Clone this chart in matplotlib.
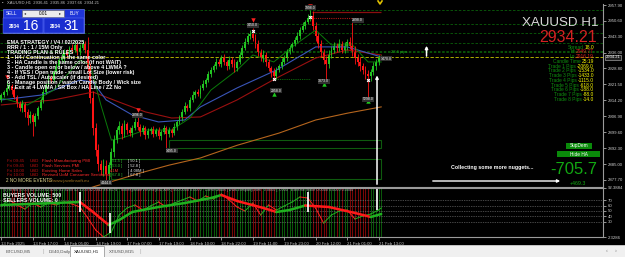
import matplotlib
matplotlib.use("Agg")
import matplotlib.pyplot as plt
from matplotlib.patches import Rectangle
import numpy as np

plt.rcParams['font.family'] = ['Liberation Sans', 'DejaVu Sans']

# ---------------- data ----------------
symbol = "XAUUSD H1"
last_price = 2934.21
first_open = 2914.5
closes = [
 2916.6, 2918.0, 2919.9, 2920.8, 2918.9, 2915.7, 2913.0, 2910.7, 2912.5, 2908.9,
 2906.1, 2907.5, 2904.3, 2907.0, 2910.7, 2914.4, 2918.0, 2921.2, 2924.4, 2923.5,
 2927.2, 2929.9, 2932.7, 2933.6, 2936.4, 2935.0, 2938.2, 2937.3, 2939.6, 2936.4,
 2938.2, 2940.0, 2937.3, 2929.0, 2915.3, 2901.5, 2891.4, 2885.0, 2882.3, 2884.1,
 2880.4, 2884.6, 2890.5, 2896.0, 2900.6, 2902.4, 2898.8, 2903.4, 2900.6, 2899.2,
 2901.5, 2904.3, 2902.0, 2899.7, 2901.5, 2898.3, 2900.2, 2901.1, 2898.8, 2900.6,
 2897.9, 2899.7, 2901.5, 2898.8, 2900.6, 2899.2, 2902.0, 2904.3, 2906.1, 2908.9,
 2911.6, 2910.7, 2914.4, 2916.6, 2918.0, 2917.1, 2919.9, 2921.7, 2923.5, 2926.3,
 2928.1, 2929.9, 2931.8, 2930.9, 2933.6, 2931.8, 2929.9, 2932.7, 2930.9, 2929.0,
 2931.8, 2935.0, 2938.2, 2940.9, 2943.7, 2944.6, 2942.8, 2940.0, 2936.4, 2933.6,
 2935.0, 2931.8, 2929.0, 2927.2, 2925.4, 2928.1, 2929.9, 2931.8, 2933.6, 2936.4,
 2938.2, 2940.0, 2941.9, 2943.7, 2946.4, 2948.3, 2950.1, 2951.9, 2952.9, 2948.3,
 2943.7, 2940.0, 2936.4, 2932.7, 2930.9, 2935.0, 2937.3, 2939.1, 2938.2, 2940.0,
 2937.3, 2939.1, 2940.9, 2939.1, 2936.4, 2933.6, 2931.8, 2929.9, 2928.1, 2926.3,
 2925.4, 2927.2, 2929.9, 2931.8, 2933.6, 2934.21]
upper_wick = [
 1.0, 0.8, 3.6, 1.2, 0.7, 1.5, 0.9, 1.1, 2.0, 0.8,
 1.2, 1.6, 0.9, 1.4, 0.8, 1.1, 1.3, 0.9, 1.7, 1.2,
 0.9, 1.4, 1.0, 2.1, 1.2, 1.5, 0.8, 1.8, 2.4, 1.1,
 1.6, 2.0, 1.3, 5.9, 2.2, 3.0, 2.5, 2.8, 1.9, 3.2,
 2.6, 1.4, 1.8, 2.2, 1.5, 2.4, 1.2, 1.9, 1.1, 1.6,
 1.3, 1.8, 2.7, 1.2, 1.6, 0.9, 1.4, 1.1, 1.5, 0.8,
 1.2, 1.0, 1.6, 0.9, 1.3, 1.1, 1.7, 1.0, 1.4, 1.2,
 1.8, 1.1, 1.5, 1.9, 0.9, 1.4, 1.2, 1.6, 1.0, 1.3,
 1.5, 1.1, 1.8, 1.2, 1.4, 1.9, 1.0, 1.6, 1.3, 2.2,
 1.1, 1.4, 1.2, 1.7, 1.5, 2.0, 2.8, 1.6, 1.9, 1.3,
 2.1, 1.2, 1.5, 1.0, 1.8, 1.3, 1.1, 1.6, 1.4, 1.2,
 1.5, 1.0, 1.3, 1.8, 1.2, 1.6, 1.1, 1.9, 2.7, 2.2,
 1.8, 1.4, 2.0, 1.3, 1.7, 2.4, 1.6, 1.9, 1.2, 2.1,
 1.4, 1.8, 1.5, 2.2, 11.9, 2.6, 1.8, 2.4, 1.5, 1.9,
 2.0, 1.4, 1.7, 1.2, 1.5, 0.6]
lower_wick = [
 1.2, 0.9, 1.4, 1.0, 1.6, 1.1, 2.0, 1.5, 1.8, 2.4,
 3.0, 2.2, 6.4, 1.8, 1.3, 1.0, 1.5, 0.8, 1.2, 1.4,
 1.1, 0.9, 1.3, 1.0, 1.6, 1.2, 0.8, 1.4, 1.1, 1.5,
 1.2, 0.9, 1.6, 1.8, 2.5, 3.1, 2.6, 3.4, 2.2, 2.8,
 2.7, 3.0, 1.8, 2.4, 1.5, 1.9, 2.1, 1.4, 1.7, 1.2,
 1.6, 1.1, 1.3, 1.8, 1.0, 2.0, 1.4, 1.2, 1.5, 1.1,
 1.3, 1.7, 1.0, 7.4, 1.2, 1.6, 1.1, 1.4, 0.9, 1.3,
 1.0, 1.5, 1.2, 0.8, 1.4, 1.1, 1.6, 0.9, 1.3, 1.0,
 1.2, 0.9, 1.4, 1.1, 1.6, 1.3, 1.8, 1.2, 1.5, 1.9,
 1.3, 1.0, 1.2, 0.9, 1.1, 1.4, 1.6, 1.8, 2.1, 1.5,
 1.7, 1.9, 1.4, 2.2, 1.9, 1.3, 1.1, 1.5, 0.9, 1.2,
 1.0, 1.4, 1.1, 0.8, 1.3, 1.0, 1.2, 0.9, 1.5, 1.8,
 2.2, 1.9, 2.5, 1.7, 8.3, 2.0, 1.6, 1.4, 1.9, 1.2,
 1.5, 1.3, 1.8, 1.4, 2.0, 2.6, 1.9, 2.3, 1.7, 2.1,
 9.7, 2.5, 1.4, 1.8, 1.2, 0.8]

# moving averages (sampled at bars)
ma_fast_bars = [0, 10, 20, 30, 34, 38, 42, 46, 55, 65, 72, 80, 90, 96, 104, 112, 120, 126, 134, 140, 145]
ma_fast_vals = [2915.3, 2912.1, 2918.9, 2932.7, 2930.4, 2912.1, 2896.0, 2896.9, 2900.6, 2900.6,
                2906.1, 2918.9, 2928.1, 2935.0, 2931.8, 2939.6, 2946.4, 2939.6, 2939.6, 2931.8, 2931.8]
ma_blue_bars = [0, 15, 30, 35, 40, 50, 60, 70, 76, 90, 105, 120, 132, 145]
ma_blue_vals = [2914.4, 2916.6, 2923.5, 2922.6, 2914.4, 2907.5, 2904.3, 2905.2, 2911.2, 2919.9,
                2928.1, 2938.7, 2938.7, 2934.1]
ma_red_bars = [0, 20, 35, 45, 55, 65, 76, 90, 105, 120, 132, 145]
ma_red_vals = [2912.1, 2914.4, 2918.0, 2913.4, 2908.9, 2906.1, 2906.6, 2914.4, 2924.4, 2933.6,
               2937.3, 2935.0]
ma_slow_bars = [30, 36, 45, 53, 64, 76, 90, 106, 120, 132, 145]
ma_slow_vals = [2872.5, 2874.9, 2878.0, 2880.9, 2884.5, 2887.8, 2893.6, 2899.2, 2905.2, 2908.3, 2911.2]

# zone levels
sr_levels = [2955.6, 2949.2, 2945.1, 2940.5, 2936.9, 2936.4]
zones = [(64, 145, 2892.4, 2896.0), (42, 145, 2878.3, 2887.3)]
sell_bars = [2, 52, 96, 118]
sell_prices = [2924.8, 2909.8, 2950.8, 2957.6]
buy_bars = [104, 123, 140]
buy_prices = [2916.9, 2921.5, 2914.0]
x_bars = [96, 104, 118, 140]
x_prices = [2946.0, 2924.0, 2952.3, 2923.5]
tag_bars = [96, 118, 105, 123, 140, 52, 65, 40, 136, 147]
tag_prices = [2948.6, 2956.6, 2918.5, 2923.0, 2914.6, 2907.4, 2891.0, 2876.5, 2951.0, 2933.2]
tag_texts = ["3450.0", "3998.0", "2958.0", "3873.0", "5298.0", "2896.0", "1495.0", "4444.0", "2898.0", "1470.0"]

time_tick_bars = [0, 12, 24, 36, 48, 60, 72, 84, 96, 108, 120, 132, 144]
time_labels = ["13 Feb 2025", "13 Feb 17:00", "14 Feb 05:00", "14 Feb 19:00", "17 Feb 07:00",
               "17 Feb 19:00", "18 Feb 10:00", "18 Feb 22:00", "19 Feb 11:00", "19 Feb 23:00",
               "20 Feb 12:00", "21 Feb 01:00", "21 Feb 13:00"]
price_ticks = [2957.90, 2950.60, 2943.30, 2936.00, 2928.80, 2921.50, 2914.20,
               2906.90, 2899.60, 2892.30, 2885.00, 2877.70]

# volume indicator
vol_bars = [0, 10, 20, 30, 35, 41, 45, 50, 60, 70, 80, 84, 90, 100, 105, 110, 116, 125, 135, 141, 145]
vol_avg = [60.9, 62.7, 64.5, 66.4, 48.2, 24.5, 33.6, 48.2, 57.3, 64.5, 73.6, 79.1, 68.2, 55.5,
           48.2, 51.8, 60.0, 57.3, 46.4, 39.1, 44.5]
osc_bars = [0, 3, 6, 9, 12, 15, 18, 21, 24, 27, 30, 33, 36, 39, 42, 45, 48, 51, 54, 57, 60, 63,
            66, 69, 72, 75, 78, 81, 84, 87, 90, 93, 96, 99, 102, 105, 108, 111, 114, 117, 120,
            123, 126, 129, 132, 135, 138, 141, 144, 145]
osc_vals = [59.1, 70.0, 60.9, 53.6, 64.5, 57.3, 64.5, 60.9, 66.4, 62.7, 57.3, 37.3, 15.5, 2.7,
            11.8, 42.7, 55.5, 60.9, 51.8, 59.1, 66.4, 57.3, 64.5, 70.0, 75.5, 68.2, 77.3, 71.8,
            80.9, 70.0, 57.3, 50.0, 64.5, 42.7, 60.9, 51.8, 59.1, 66.4, 75.5, 73.6, 55.0, 28.2,
            42.7, 50.0, 51.8, 35.5, 40.9, 44.5, 51.8, 55.5]
vol_marks = [(30, 84.5, 48.2), (41.5, 46.4, 10.0), (117, 84.5, 48.2), (143.4, 92.4, 51.8)]
vol_levels = [70, 60, 50, 40, 30]
vol_ticks = [92.3884, 70, 60, 50, 40, 30, 2.3286]

panel_rows = [("Spread", "18.0"), ("Hi", "2949.77"), ("Lo", "2916.19"), ("Candle Time", "25:19"),
              ("Trade 1 Pips", "-2069.0"), ("Trade 2 Pips", "-1534.0"), ("Trade 3 Pips", "-1433.0"),
              ("Trade 4 Pips", "-1115.0"), ("Trade 5 Pips", "-618.0"), ("Trade 6 Pips", "-188.0"),
              ("Trade 7 Pips", "-88.0"), ("Trade 8 Pips", "-14.0")]
rules = ["EMA STRATEGY / V4 / 02/2025", "RRR / 1 : 1 / 15M Only", "TRADING PLAN & RULES",
         "1 - H4 / Continuation is the same color",
         "2 - HA Candle is the same color (if not WAIT)",
         "3 - Candle open on or below / above 4 LWMA ?",
         "4 - If YES / Open trade - small Lot Size (lower risk)",
         "5 - Add TSL / Autoscaler (if desired)",
         "6 - Manage position / watch Candle Body / Wick size",
         "7 - Exit at 4 LWMA / SR Box / HA Line / ZZ No"]
events = [("Fri 09:45", "USD", "Flash Manufacturing PMI", "[ 51.5 ]", "[ 50.1 ]"),
          ("Fri 09:45", "USD", "Flash Services PMI", "[ 53.0 ]", "[ 52.8 ]"),
          ("Fri 10:00", "USD", "Existing Home Sales", "4.1M", "[ 4.08M ]"),
          ("Fri 10:00", "USD", "Revised UoM Consumer Sentiment", "[ 67.8 ]", "[ 67.8 ]")]
tabs = ["BTCUSD,M5", "DE40,Daily", "XAUUSD,H1", "XTIUSD,M15"]

# ---------------- figure ----------------
W, H = 625, 257
fig = plt.figure(figsize=(W / 100, H / 100), dpi=100, facecolor='black')

def fx(x): return x / W
def fy(y): return 1 - y / H
def T(x, y, s, **kw):
    kw.setdefault('va', 'center')
    return fig.text(fx(x), fy(y), s, **kw)
def R(x0, y0, x1, y1, **kw):
    fig.patches.append(Rectangle((fx(x0), fy(y1)), (x1 - x0) / W, (y1 - y0) / H,
                                 transform=fig.transFigure, **kw))

PX = 2.62  # pixels per bar
XMIN, XMAX = -0.5, (603 - 1.3) / PX
P_TOP, P_BOT = 2958.36, 2874.49
GRN, RED = '#22c422', '#ff1414'
AXC = '#9a9a9a'

ax = fig.add_axes([0, fy(187), 603 / W, (187 - 4) / H])
ax.set_facecolor('black')
ax.set_xlim(XMIN, XMAX)
ax.set_ylim(P_BOT, P_TOP)

n = len(closes)
idx = np.arange(n)
c = np.array(closes)
o = np.r_[first_open, c[:-1]]
hi = np.maximum(o, c) + np.array(upper_wick)
lo = np.minimum(o, c) - np.array(lower_wick)
cols = np.where(c >= o, GRN, RED)

# levels and zones
for lv in sr_levels:
    ax.axhline(lv, color='#0b6a0b', lw=0.6, ls=(0, (3, 2)), alpha=0.9)
for (b0, b1, p0, p1) in zones:
    ax.add_patch(Rectangle((b0, p0), b1 - b0, p1 - p0, fill=False, ec='#0e5a0e', lw=0.8))
ax.axhline(last_price, color='#c8c800', lw=0.6, ls=(0, (4, 2)))
ax.hlines(2954.7, 118.5, 145, color='#8a0f0f', lw=0.9)
ax.hlines(2951.9, 119, 138, color='#b01515', lw=0.8, ls=(0, (1, 1)))
ax.hlines(2924.0, 104, 118, color='#0e8a0e', lw=0.6, ls=(0, (1, 1.2)))

# moving averages
ax.plot(ma_slow_bars, ma_slow_vals, color='#b5651d', lw=0.8)
ax.plot(ma_red_bars, ma_red_vals, color='#9a1010', lw=0.8)
ax.plot(ma_blue_bars, ma_blue_vals, color='#3a55b8', lw=0.8)
ax.plot(ma_fast_bars, ma_fast_vals, color='#0a7a0a', lw=0.7)

# candles
ax.vlines(idx, lo, hi, colors=cols, lw=0.6)
ax.bar(idx, np.abs(c - o) + 0.2, bottom=np.minimum(o, c) - 0.1, width=0.7, color=cols, lw=0)

# signals
ax.plot(sell_bars, sell_prices, 'v', color='#ff2020', ms=3.2, mew=0)
ax.plot(buy_bars, buy_prices, '^', color='#1ec81e', ms=3.2, mew=0)
ax.plot(x_bars, x_prices, 'X', color='white', ms=2.6, mew=0)
for b, p, s in zip(tag_bars, tag_prices, tag_texts):
    ax.text(b, p, s, color='white', fontsize=2.5, ha='center', va='center',
            bbox=dict(boxstyle='square,pad=0.15', fc='#303030', ec='none'))
ax.text(152, 2935.5, "28.6 pips", color='#1ea01e', fontsize=3.0, ha='center', va='bottom')
ax.annotate("", xy=(143.4, 2926.9), xytext=(143.4, P_BOT),
            arrowprops=dict(arrowstyle='-|>', color='white', lw=1.1, mutation_scale=4))
ax.annotate("", xy=(162.3, 2940.5), xytext=(162.3, 2933.2),
            arrowprops=dict(arrowstyle='-|>', color='white', lw=1.1, mutation_scale=4))

for s in ['top', 'left']:
    ax.spines[s].set_visible(False)
for s in ['right', 'bottom']:
    ax.spines[s].set_color(AXC)
    ax.spines[s].set_linewidth(0.8)
ax.yaxis.tick_right()
ax.set_yticks(price_ticks)
ax.set_yticklabels([f"{v:.2f}" for v in price_ticks])
ax.tick_params(axis='y', colors='#d0d0d0', labelsize=3.1, length=2, width=0.5, pad=1.5)
ax.set_xticks([])
ax.text(1.004, (last_price - P_BOT) / (P_TOP - P_BOT) - 0.004, f"{last_price:.2f}", transform=ax.transAxes,
        color='white', fontsize=3.0, va='center', ha='left',
        bbox=dict(boxstyle='square,pad=0.12', fc='#202020', ec='#c0c0c0', lw=0.4))

# ---------------- indicator ----------------
ai = fig.add_axes([0, fy(237.2), 603 / W, (237.2 - 187.7) / H])
ai.set_facecolor('black')
ai.set_xlim(XMIN, XMAX)
ai.set_ylim(2.3286, 92.3884)
ai.vlines(idx, 2.3286, 92.3884, colors=np.where(c >= o, '#0b5a0b', '#7a0808'), lw=0.7)
for lv in vol_levels:
    ai.axhline(lv, color='#8a8a8a', lw=0.5, ls=(0, (1, 1.5)))
ob, ov = np.array(osc_bars), np.array(osc_vals)
for k in range(len(ob) - 1):
    ai.plot(ob[k:k + 2], ov[k:k + 2], color='#ff2020' if ov[k + 1] < ov[k] else '#22b022', lw=0.7)
vb, vv = np.array(vol_bars), np.array(vol_avg)
for k in range(len(vb) - 1):
    ai.plot(vb[k:k + 2], vv[k:k + 2], color='#ff1a1a' if vv[k + 1] < vv[k] else '#20b020', lw=1.8,
            solid_capstyle='round')
for b, t, bt in vol_marks:
    ai.vlines(b, bt, t, color='white', lw=1.2)
for s in ['left']:
    ai.spines[s].set_visible(False)
for s in ['right', 'bottom', 'top']:
    ai.spines[s].set_color(AXC)
    ai.spines[s].set_linewidth(0.8)
ai.yaxis.tick_right()
ai.set_yticks(vol_ticks)
ai.set_yticklabels(['92.3884', '70', '60', '50', '40', '30', '2.3286'])
ai.tick_params(axis='y', colors='#d0d0d0', labelsize=3.1, length=2, width=0.5, pad=1.5)
ai.set_xticks(time_tick_bars)
ai.set_xticklabels(time_labels, ha='left')
ai.tick_params(axis='x', colors='#c8c8c8', labelsize=3.1, length=2, width=0.5, pad=1.2)

# ---------------- overlays ----------------
T(2, 3, "▪", color='#b0b0b0', fontsize=3)
T(7, 3, "XAUUSD,H1  2936.41  2935.86  2937.66  2934.21", color='#c0c0c0', fontsize=3.0, ha='left')
fig.lines.append(plt.Line2D([fx(378), fx(380), fx(382)], [fy(1), fy(4), fy(1)],
                            transform=fig.transFigure, color='#e0c000', lw=1.2))

# trade panel
BLUE = '#1f35d9'
R(3, 9, 84, 33, fc=BLUE, ec='#8090ff', lw=0.4)
R(22, 10, 64, 17, fc='#ececec', ec='#606060', lw=0.4)
R(3, 18, 43, 33, fc='#1a2ed0', ec='#7080ff', lw=0.3)
R(44, 18, 84, 33, fc='#1a2ed0', ec='#7080ff', lw=0.3)
T(11.5, 13.5, "SELL", color='white', fontsize=3.4, ha='center')
T(74, 13.5, "BUY", color='white', fontsize=3.4, ha='center')
T(43, 13.5, "0.01", color='black', fontsize=3.4, ha='center')
T(25.5, 13.5, "◂", color='#333333', fontsize=3, ha='center')
T(60.5, 13.5, "▸", color='#333333', fontsize=3, ha='center')
T(9, 27, "2934", color='white', fontsize=3.6, ha='left', weight='bold')
T(23, 25.5, "16", color='white', fontsize=10, ha='left')
T(50, 27, "2934", color='white', fontsize=3.6, ha='left', weight='bold')
T(63, 25.5, "31", color='white', fontsize=10, ha='left')

# rules text
for k, s in enumerate(rules):
    T(7, 43 + k * 4.95, s, color='white', fontsize=3.9, ha='left', weight='bold')

# economic events
for k, (tm, cur, name, a, b) in enumerate(events):
    y = 161 + k * 4.8
    T(7, y, tm, color='#b01010', fontsize=3.2, ha='left')
    T(30, y, cur, color='#c01010', fontsize=3.2, ha='left')
    T(42, y, name, color='#ff2a2a', fontsize=3.2, ha='left')
    T(110, y, a, color='#ff3030' if '[' not in a else '#30c030', fontsize=2.9, ha='left')
    T(128, y, b, color='#e8e8e8', fontsize=2.9, ha='left')
T(6, 181, "2 NO MORE EVENTS", color='#e0d890', fontsize=3.3, ha='left')
T(48, 181, "s://www.javelinsoft.eu", color='#a07020', fontsize=3.2, ha='left')

# indicator header
T(3, 190.5, "(5) ro Ma (0,00) 42.4200 42.4200 42.4200 42.4200 92.2342 46.8174   TickSeparateVolume(BID,ASK) "
            "500.0000 0.0000   Continuation | www.company.com   0.0000 | .0000   Extreme Spike 0.0000 0.0000 0.0000",
  color='#a8a8a8', fontsize=2.7, ha='left')
T(3, 195.5, "BUYERS VOLUME: 500", color='white', fontsize=3.8, ha='left', weight='bold')
T(3, 200.5, "SELLERS VOLUME: 0", color='white', fontsize=3.8, ha='left', weight='bold')

# right-hand info
T(598, 22.5, symbol, color='#d8d8d8', fontsize=9.6, ha='right')
T(597, 37.5, f"{last_price:.2f}", color='#d42222', fontsize=11.5, ha='right')
fig.canvas.draw()
rend = fig.canvas.get_renderer()
for k, (lab, val) in enumerate(panel_rows):
    y = 47.2 + k * 4.75
    vcol = '#e02020' if lab in ("Hi", "Lo") else '#ffff00'
    tv = T(594, y, val, color=vcol, fontsize=3.5, ha='right')
    bb = tv.get_window_extent(rend)
    fig.text(fx(bb.x0 - 1), fy(y), lab, color='#0f8f0f', fontsize=3.5, ha='right', va='center')

R(566, 143, 592, 149, fc='#0a8a0a', ec='none')
T(579, 146, "SupDem", color='white', fontsize=3.4, ha='center')
R(557, 151, 600, 157, fc='#0a8a0a', ec='none')
T(578.5, 154, "Hide HA", color='white', fontsize=3.4, ha='center')
T(492, 168, "Collecting some more nuggets...", color='white', fontsize=3.8, ha='center', weight='bold')
fig.patches.append(matplotlib.patches.FancyArrowPatch((fx(430), fy(181)), (fx(563), fy(181)),
                   transform=fig.transFigure, arrowstyle='-|>', color='white', lw=1.0, mutation_scale=4))
T(597, 170, "-705.7", color='#12a812', fontsize=12, ha='right')
T(578, 183.5, "+469.3", color='#12a812', fontsize=3.8, ha='center')

# bottom tab bar
R(0, 245, 625, 257, fc='#f0f0f0', ec='none')
fig.lines.append(plt.Line2D([0, 1], [fy(245), fy(245)], transform=fig.transFigure, color='#b0b0b0', lw=0.5))
R(70, 246, 104, 257, fc='white', ec='#8a8a8a', lw=0.5)
tab_x = [6, 49, 74, 109]
for tx, s in zip(tab_x, tabs):
    T(tx, 251.5, s, color='#505050' if s != "XAUUSD,H1" else '#202020', fontsize=3.2, ha='left')
for sx in [43, 140]:
    T(sx, 251.5, "|", color='#b0b0b0', fontsize=4, ha='center')
T(607, 250.5, "‹", color='#808080', fontsize=4, ha='center')
T(616, 250.5, "›", color='#808080', fontsize=4, ha='center')

fig.savefig("out.png", dpi=100, facecolor='black')
